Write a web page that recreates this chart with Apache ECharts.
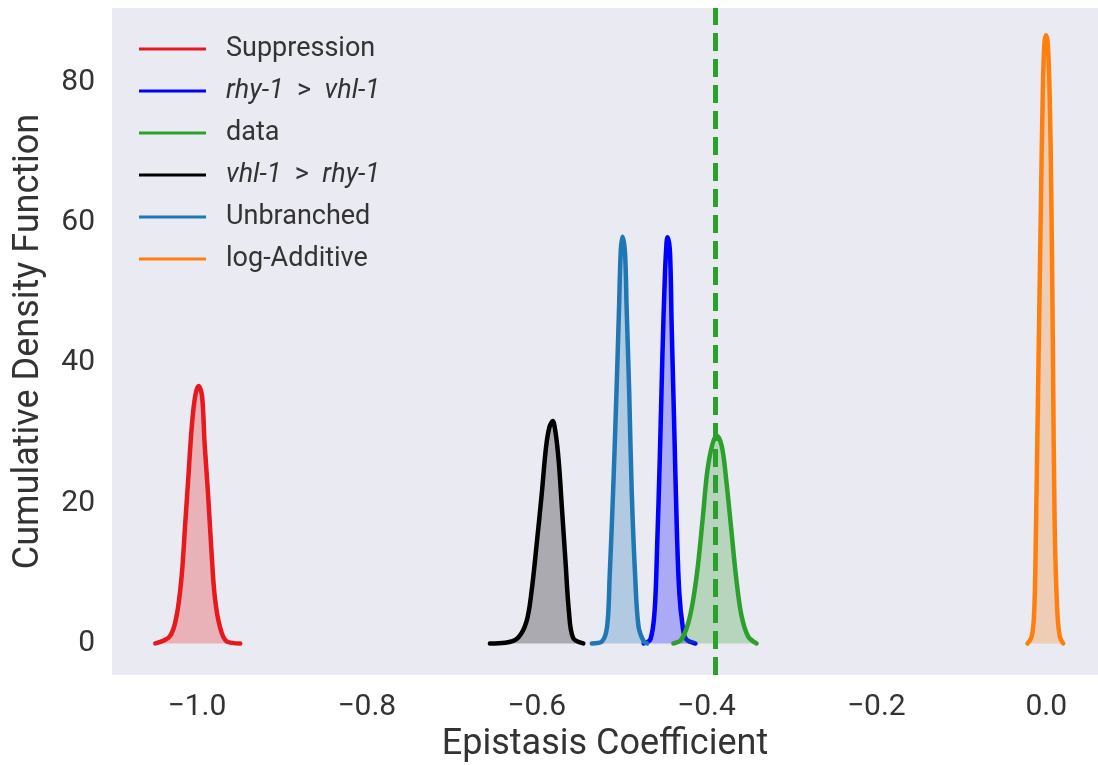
<!DOCTYPE html>
<html>
<head>
<meta charset="utf-8">
<script src="https://cdn.jsdelivr.net/npm/echarts@6/dist/echarts.min.js"></script>
<style>
html,body{margin:0;padding:0;background:#ffffff;}
#chart{width:1098px;height:765px;}
</style>
</head>
<body>
<div id="chart"></div>
<script>
// ---- data ----
const seriesNames = ['Suppression', 'rhy-1 > vhl-1', 'data', 'vhl-1 > rhy-1', 'Unbranched', 'log-Additive'];
const seriesColors = ['#e8191c', '#0000ff', '#2ca02c', '#000000', '#1f77b4', '#ff7f0e'];

const suppressionPts = [[-1.049,0],[-1.032,1.0],[-1.024,3.9],[-1.018,9.6],[-1.014,16.7],[-1.010,23.9],[-1.006,31.0],[-1.002,35.3],[-0.998,36.7],[-0.994,35.3],[-0.991,28.6],[-0.987,21.5],[-0.983,13.4],[-0.979,6.7],[-0.973,2.4],[-0.965,0.3],[-0.949,0]];
const rhyVhlPts = [[-0.474,0],[-0.466,0.6],[-0.461,4.8],[-0.458,14.3],[-0.455,26.3],[-0.452,40.6],[-0.449,52.4],[-0.447,57.2],[-0.446,57.9],[-0.443,55.8],[-0.441,45.3],[-0.438,31.0],[-0.435,16.7],[-0.432,7.2],[-0.428,2.4],[-0.424,0.6],[-0.413,0]];
const dataPts = [[-0.439,0],[-0.430,0.5],[-0.422,2.7],[-0.416,6.0],[-0.410,11.2],[-0.404,18.4],[-0.399,24.6],[-0.393,28.4],[-0.388,29.6],[-0.382,28.1],[-0.377,23.6],[-0.371,16.5],[-0.365,9.3],[-0.359,4.1],[-0.351,1.0],[-0.341,0]];
const vhlRhyPts = [[-0.655,0],[-0.637,0.1],[-0.622,0.8],[-0.612,3.1],[-0.606,7.4],[-0.600,14.1],[-0.594,21.3],[-0.589,27.9],[-0.585,30.8],[-0.581,31.7],[-0.578,30.3],[-0.574,26.0],[-0.570,18.9],[-0.566,11.7],[-0.562,4.6],[-0.557,0.8],[-0.545,0]];
const unbranchedPts = [[-0.535,0],[-0.523,0.3],[-0.517,2.4],[-0.514,9.6],[-0.510,21.5],[-0.506,35.8],[-0.503,47.7],[-0.501,55.8],[-0.499,58.0],[-0.496,55.8],[-0.494,47.7],[-0.491,35.8],[-0.488,21.5],[-0.484,9.6],[-0.480,2.4],[-0.474,0.3],[-0.470,0]];
const logAdditivePts = [[-0.022,0],[-0.017,1.0],[-0.014,4.8],[-0.012,16.7],[-0.009,40.6],[-0.006,64.3],[-0.004,78.6],[-0.002,85.8],[0.000,86.7],[0.002,85.3],[0.004,78.6],[0.006,64.3],[0.008,40.6],[0.010,16.7],[0.013,4.8],[0.016,1.0],[0.020,0]];
const dataMean = -0.389;

const xTicks = [-1.0, -0.8, -0.6, -0.4, -0.2, 0.0];
const yTicks = [0, 20, 40, 60, 80];
const xTitle = 'Epistasis Coefficient';
const yTitle = 'Cumulative Density Function';

// ---- chart ----
const allPts = [suppressionPts, rhyVhlPts, dataPts, vhlRhyPts, unbranchedPts, logAdditivePts];
const FONT = 'Roboto, "DejaVu Sans", sans-serif';
const TXT = '#333333';

const series = seriesNames.map((name, i) => ({
  name: name,
  type: 'line',
  data: allPts[i],
  smooth: 0.35,
  showSymbol: false,
  symbol: 'none',
  lineStyle: { color: seriesColors[i], width: 4.5, join: 'round', cap: 'round' },
  itemStyle: { color: seriesColors[i] },
  areaStyle: { color: seriesColors[i], opacity: 0.27, origin: 0 },
  z: 2 + i,
  silent: true
}));

// vertical dashed line at the data mean
series[2].markLine = {
  silent: true,
  symbol: ['none', 'none'],
  label: { show: false },
  lineStyle: { color: '#2ca02c', width: 5, type: [18, 8] },
  data: [{ xAxis: dataMean }]
};
series[2].z = 10;

function fmtX(v) {
  const s = Math.abs(v).toFixed(1);
  return (v < -1e-9 ? '\u2212' : '') + s;
}

const option = {
  animation: false,
  backgroundColor: '#ffffff',
  grid: { left: 112, right: 0, top: 8, bottom: 90, show: true, backgroundColor: '#EAEAF2', borderWidth: 0, containLabel: false, outerBoundsMode: 'none' },
  legend: {
    left: 134, top: 30, orient: 'vertical',
    icon: 'rect', itemWidth: 67, itemHeight: 3, itemGap: 14,
    data: seriesNames,
    formatter: function (name) {
      if (name === 'rhy-1 > vhl-1') return '{i|rhy-1}  >  {i|vhl-1}';
      if (name === 'vhl-1 > rhy-1') return '{i|vhl-1}  >  {i|rhy-1}';
      return name;
    },
    textStyle: {
      fontFamily: FONT, fontSize: 27, color: TXT, padding: [0, 0, 0, 15], lineHeight: 28,
      rich: { i: { fontFamily: FONT, fontSize: 27, color: TXT, fontStyle: 'italic', lineHeight: 28 } }
    }
  },
  xAxis: {
    type: 'value', min: -1.1, max: 0.061,
    axisLine: { show: false }, axisTick: { show: false }, splitLine: { show: false },
    axisLabel: { customValues: xTicks, formatter: fmtX, fontFamily: FONT, fontSize: 30, color: TXT, margin: 17 },
    name: xTitle, nameLocation: 'middle', nameGap: 52,
    nameTextStyle: { fontFamily: FONT, fontSize: 36, color: TXT }
  },
  yAxis: {
    type: 'value', min: -4.5, max: 90.6,
    axisLine: { show: false }, axisTick: { show: false }, splitLine: { show: false },
    axisLabel: { customValues: yTicks, fontFamily: FONT, fontSize: 30, color: TXT, margin: 17 },
    name: yTitle, nameLocation: 'middle', nameGap: 65, nameRotate: 90,
    nameTextStyle: { fontFamily: FONT, fontSize: 36, color: TXT }
  },
  series: series
};

const chart = echarts.init(document.getElementById('chart'), null, { renderer: 'canvas' });
chart.setOption(option);
</script>
</body>
</html>
